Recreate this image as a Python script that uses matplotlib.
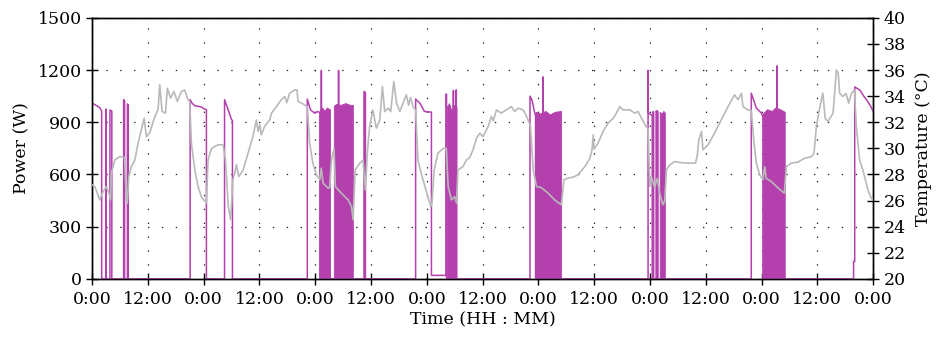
import matplotlib
matplotlib.use('Agg')
import matplotlib.pyplot as plt
import numpy as np

plt.rcParams['font.family'] = ['DejaVu Serif']
plt.rcParams['font.size'] = 12.5

# Время в часах от начала записи (7 суток)
# Мощность нагревателя, Вт (участки вкл/выкл)
power_t = [0, 1.0, 1.6, 2.07, 2.07, 2.95, 2.95, 3.05, 3.05, 3.85, 3.85, 4.25, 4.25,
           6.8, 6.8, 7.0, 7.0, 7.6, 7.6, 7.75, 7.75,
           21.1, 21.1, 21.5, 22.1, 23.5, 24.0, 24.6, 24.6,
           28.5, 28.5, 29.3, 30.0, 30.2, 30.2,
           46.3, 46.3, 47.0, 47.9, 48.6, 49.0, 49.0,
           49.3, 49.3, 49.35, 49.35,
           53.0, 53.0, 53.05, 53.05,
           58.5, 58.5, 58.8, 58.8,
           69.6, 69.6, 70.5, 71.5, 73.0, 73.0, 76.15, 76.15, 76.25, 76.25,
           77.7, 77.7, 77.75, 77.75, 78.3, 78.3, 78.35, 78.35,
           94.2, 94.2, 94.6, 95.3, 95.4, 95.4,
           97.0, 97.0, 97.05, 97.05,
           119.6, 119.6, 119.65, 120.1, 120.5, 120.5, 120.65, 120.65, 120.8, 120.8,
           121.35, 121.35, 121.45, 121.45, 121.6, 121.6, 121.7, 121.7,
           141.8, 141.8, 142.9, 144.0, 144.3, 144.3,
           147.3, 147.3, 147.35, 147.35,
           163.8, 163.8, 164.05, 164.05, 165.2, 166.0, 166.6, 167.3, 168.0]
power_w = [1010, 995, 985, 965, 0, 0, 975, 975, 0, 0, 970, 965, 0,
           0, 1030, 1020, 0, 0, 1005, 1000, 0,
           0, 1030, 1010, 995, 988, 978, 972, 0,
           0, 1030, 970, 915, 910, 0,
           0, 1033, 971, 952, 962, 955, 0,
           0, 1197, 1197, 0,
           0, 1197, 1197, 0,
           0, 1077, 1070, 0,
           0, 1033, 1010, 962, 958, 20, 20, 1063, 1060, 0,
           0, 1082, 1082, 0, 0, 1086, 1086, 0,
           0, 1050, 1030, 945, 945, 0,
           0, 1160, 1160, 0,
           0, 1197, 955, 945, 940, 0, 0, 960, 960, 0,
           0, 965, 960, 0, 0, 965, 960, 0,
           0, 1067, 981, 952, 930, 0,
           0, 1224, 1224, 0,
           0, 100, 100, 1103, 1084, 1050, 1029, 1000, 965]

# Участки частого переключения: огибающая верхних значений
band1_t = [49.0, 49.5, 50.0, 50.5, 51.0, 51.2]
band1_w = [975, 985, 965, 985, 975, 975]
band2_t = [52.0, 52.5, 53.5, 54.5, 55.5, 56.1]
band2_w = [995, 1005, 1000, 1010, 1000, 1000]
band3_t = [76.3, 76.8, 77.3, 77.8, 78.4]
band3_w = [990, 1010, 965, 1000, 990]
band4_t = [95.4, 96.5, 97.5, 98.5, 99.5, 100.9]
band4_w = [960, 950, 965, 945, 960, 965]
band5_t = [122.1, 122.5, 122.9, 123.2]
band5_w = [960, 950, 965, 955]
band6_t = [144.3, 145.2, 146.2, 147.0, 148.0, 149.0]
band6_w = [950, 975, 965, 985, 975, 960]
bands = [(band1_t, band1_w), (band2_t, band2_w), (band3_t, band3_w),
         (band4_t, band4_w), (band5_t, band5_w), (band6_t, band6_w)]

# Температура, °C
temp_t = [0, 0.6, 1.65, 2.37, 3.1, 3.6, 4.0, 4.15, 4.9, 5.95, 7.0, 7.25, 7.6, 7.9, 8.46,
          9.2, 9.9, 10.6, 11.2, 11.7, 12.4, 13.5, 14.2, 14.56, 15.06, 15.8, 16.2, 16.9,
          17.6, 18.35, 19.2, 19.9, 20.65, 21.0, 21.37, 22.1, 22.8, 23.5, 24.6, 24.95,
          25.7, 27.1, 28.2, 28.7, 29.3, 29.8, 30.3, 30.7, 31.05, 31.55, 32.5, 33.55,
          34.6, 35.35, 35.7, 36.1, 36.4, 37.1, 38.2, 38.6, 39.65, 40.7, 41.45, 41.9,
          42.5, 43.6, 44.1, 44.3, 45.75, 46.3, 46.8, 47.5, 48.25, 49.0, 49.3, 49.7,
          50.8, 51.1, 51.5, 52.05, 52.35, 53.6, 55.1, 55.8, 56.15, 56.6, 57.6, 58.3,
          58.8, 59.2, 59.7, 60.4, 61.15, 61.9, 62.45, 62.95, 63.7, 64.25, 64.9, 65.5,
          66.2, 66.9, 67.6, 68.1, 68.5, 69.05, 69.6, 70.1, 70.8, 71.9, 72.85, 73.1,
          73.6, 74.4, 75.5, 76.2, 76.6, 77.3, 78.0, 78.4, 78.7, 79.8, 80.5, 81.25,
          81.95, 82.7, 83.4, 84.1, 85.2, 85.9, 86.3, 87.0, 88.0, 89.1, 90.2, 90.9,
          91.6, 92.7, 93.1, 93.8, 94.3, 94.9, 95.6, 96.6, 98.1, 99.5, 100.95, 101.5,
          102.4, 103.5, 104.5, 106.0, 107.1, 107.55, 107.8, 108.0, 108.85, 109.9,
          111.0, 112.1, 112.8, 113.5, 114.2, 115.7, 116.7, 117.45, 118.2, 119.2,
          119.6, 120.0, 120.3, 121.0, 121.6, 122.1, 122.8, 123.2, 123.55, 124.3,
          125.3, 126.75, 128.2, 129.8, 130.2, 130.5, 131.1, 131.4, 132.5, 133.9,
          135.7, 137.2, 138.2, 138.95, 139.7, 140.0, 141.1, 141.8, 142.4, 142.9,
          143.6, 144.3, 144.7, 145.0, 146.1, 147.6, 148.9, 149.35, 150.4, 151.9,
          153.3, 154.7, 155.3, 155.8, 156.5, 157.2, 157.7, 158.3, 159.4, 160.1,
          160.5, 160.8, 161.5, 162.2, 162.75, 163.3, 164.0, 164.4, 165.1, 165.8,
          166.9, 167.6, 168.0]
temp_c = [27.2, 27.07, 26.05, 26.7, 27.07, 26.57, 26.05, 28.1, 29.1, 29.37, 29.3, 27.07,
          25.8, 27.84, 28.6, 29.1, 30.4, 31.42, 32.3, 30.9, 31.2, 32.44, 32.95, 34.87,
          32.82, 32.7, 34.6, 33.85, 34.35, 33.6, 34.35, 34.48, 33.72, 33.6, 30.4, 28.35,
          27.07, 26.3, 25.8, 29.1, 30.0, 30.27, 30.27, 29.1, 25.54, 24.52, 27.6, 28.1,
          28.74, 27.84, 28.35, 29.63, 30.9, 32.18, 31.29, 31.8, 31.03, 31.67, 32.18,
          32.7, 33.2, 33.72, 33.97, 33.5, 34.23, 34.48, 34.48, 33.6, 33.33, 33.2, 30.4,
          28.87, 27.97, 27.6, 28.48, 27.33, 26.95, 27.0, 29.1, 30.0, 27.07, 26.57,
          26.05, 25.54, 24.52, 28.35, 28.87, 29.1, 26.8, 29.63, 31.67, 32.95, 31.55,
          32.18, 34.74, 32.82, 33.08, 32.82, 35.12, 33.46, 32.82, 33.46, 34.1, 33.3,
          33.9, 33.2, 32.95, 29.1, 28.1, 26.7, 25.54, 25.8, 28.35, 29.63, 30.0, 30.0,
          27.07, 26.05, 26.3, 25.8, 28.35, 28.6, 29.1, 29.3, 29.9, 30.78, 31.16, 30.9,
          31.67, 32.44, 32.1, 32.95, 32.7, 32.95, 33.2, 32.82, 33.08, 32.95, 32.7,
          32.18, 31.7, 28.35, 27.07, 27.0, 26.57, 26.05, 25.67, 27.6, 27.72, 27.8,
          27.97, 28.6, 29.25, 29.89, 31.03, 29.95, 30.4, 31.29, 31.93, 32.3, 32.7,
          33.2, 32.95, 32.95, 32.7, 32.82, 32.3, 31.67, 31.5, 27.07, 27.84, 27.0,
          27.7, 26.57, 25.67, 26.0, 28.35, 28.74, 28.99, 28.9, 28.87, 28.87, 29.5,
          30.65, 31.29, 29.89, 30.27, 31.16, 32.44, 33.46, 34.1, 33.72, 34.23, 33.2,
          32.95, 32.9, 30.4, 28.87, 27.97, 27.6, 28.6, 27.7, 27.46, 26.95, 26.57,
          28.6, 28.87, 28.95, 29.25, 29.35, 29.63, 31.67, 33.08, 34.23, 32.3, 32.06,
          32.7, 36.0, 35.8, 34.23, 33.97, 34.2, 33.46, 34.2, 34.48, 31.67, 29.1, 28.35,
          26.8, 26.18, 26.05]

purple = '#b340ad'
gray = '#b9b9b9'

fig = plt.figure(figsize=(9.49, 3.43), dpi=100)
ax = fig.add_axes([0.097, 0.187, 0.823, 0.761])
ax2 = ax.twinx()

# Мощность
for bt, bw in bands:
    ax.fill_between(bt, 0, bw, color=purple, linewidth=0.6, edgecolor=purple, zorder=2)
ax.plot(power_t, power_w, color=purple, linewidth=1.1, zorder=3)

# Температура поверх мощности
ax2.plot(temp_t, temp_c, color=gray, linewidth=1.2, zorder=4)

ax.set_xlim(0, 168)
ax.set_ylim(0, 1500)
ax2.set_ylim(20, 40)

ax.set_xticks(np.arange(0, 169, 12))
ax.set_xticklabels(['0:00' if h % 24 == 0 else '12:00' for h in range(0, 169, 12)])
ax.set_yticks(np.arange(0, 1501, 300))
ax2.set_yticks(np.arange(20, 41, 2))

ax.grid(True, color='#222222', linewidth=0.9, linestyle=(0, (1.1, 10)))
ax.set_axisbelow(True)

for a in (ax, ax2):
    a.tick_params(direction='inout', length=9, width=1.0, colors='black', labelsize=12.5)
    for s in a.spines.values():
        s.set_linewidth(1.0)
ax.tick_params(axis='x', pad=4)
ax.tick_params(axis='y', pad=3)
ax2.tick_params(axis='y', pad=3)

ax.set_xlabel('Time (HH : MM)', fontsize=12.5, labelpad=3)
ax.set_ylabel('Power (W)', fontsize=12.5, labelpad=5)
ax2.set_ylabel('Temperature (°C)', fontsize=12.5, labelpad=7)

fig.savefig('out.png', dpi=100)
